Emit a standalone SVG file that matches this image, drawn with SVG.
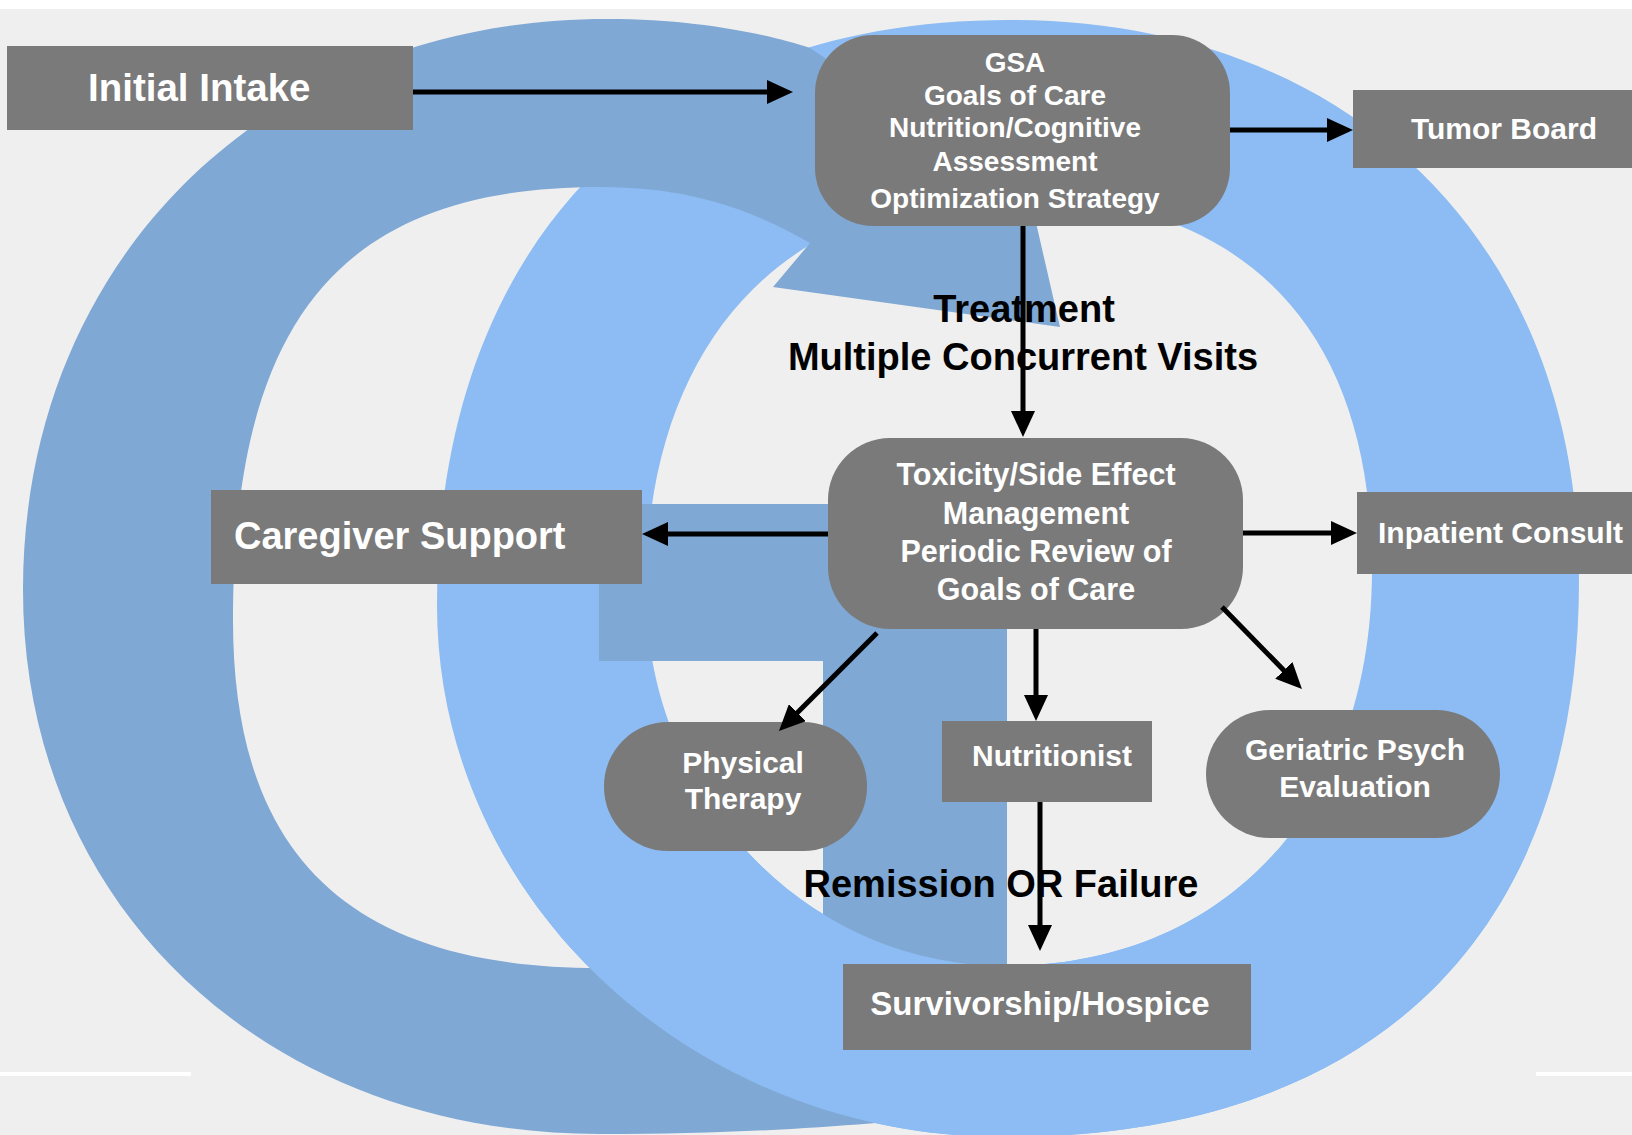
<svg xmlns="http://www.w3.org/2000/svg" xmlns:xlink="http://www.w3.org/1999/xlink" width="1632" height="1135" viewBox="0 0 1632 1135">
<defs>
<style>
.bg{fill:#efefef}
.wl{fill:#ffffff}
.dk{fill:#7fa8d5}
.lt{fill:#8cbcf3;fill-rule:evenodd}
.box{fill:#7a7a7a}
.wt{fill:#ffffff;font-family:"Liberation Sans",Arial,Helvetica,sans-serif;font-weight:bold}
.bk{fill:#000000;font-family:"Liberation Sans",Arial,Helvetica,sans-serif;font-weight:bold;font-size:38px}
.c{text-anchor:middle}
.ln{stroke:#000000;stroke-width:5;fill:none;marker-end:url(#ah)}
</style>
<marker id="ah" markerUnits="userSpaceOnUse" markerWidth="26" markerHeight="24" refX="10" refY="12" orient="auto">
<path d="M0,0 L26,12 L0,24 Z" fill="#000000"/>
</marker>
<path id="lightRing" d="M1010,20 C1351.4,20 1579,244 1579,580 C1579,936.5 1372.4,1137 1005,1137 C691.3,1137 437,898.8 437,605 C437,242.3 654.7,20 1010,20 Z M1005,195 C1243.6,195 1372,326.3 1372,570 C1372,807.6 1225.2,966 1005,966 C806.7,966 646,797.7 646,590 C646,345.1 782.4,195 1005,195 Z"/>
<clipPath id="lowClip"><rect x="0" y="850" width="1632" height="285"/></clipPath>
</defs>

<g id="background">
<rect class="bg" x="0" y="0" width="1632" height="1135"/>
<rect class="wl" x="0" y="0" width="1632" height="9"/>
<rect class="wl" x="0" y="1072" width="191" height="4"/>
<rect class="wl" x="1536" y="1072" width="96" height="4"/>
</g>

<g id="rings">
<use xlink:href="#lightRing" href="#lightRing" class="lt"/>
<path class="dk" d="M700,960 L950,1115 C880,1124 760,1134 600,1134 C265.3,1134 23,905.5 23,590 C23,258.8 268.3,19 607,19 C700,19 770,35 810,48 L850,75 L999,62 L1060,327 L773,287 L810,243 C760,215 700,187 600,187 C343.1,187 233,316.9 233,620 C233,856.6 350.4,968 600,968 C640,968 670,964 700,960 Z"/>
<path class="dk" d="M599,504 L1007,504 L1007,1090 L823,1090 L823,661 L599,661 Z"/>
<use xlink:href="#lightRing" href="#lightRing" class="lt" clip-path="url(#lowClip)"/>
</g>

<g id="node-initial-intake">
<rect class="box" x="7" y="46" width="406" height="84"/>
<text class="wt" x="88" y="101" font-size="38.5">Initial Intake</text>
</g>

<g id="node-gsa">
<rect class="box" x="815" y="35" width="415" height="191" rx="58" ry="58"/>
<text class="wt c" font-size="28"><tspan x="1015" y="72">GSA</tspan><tspan x="1015" y="105">Goals of Care</tspan><tspan x="1015" y="137">Nutrition/Cognitive</tspan><tspan x="1015" y="171">Assessment</tspan><tspan x="1015" y="208">Optimization Strategy</tspan></text>
</g>

<g id="node-tumor-board">
<rect class="box" x="1353" y="90" width="290" height="78"/>
<text class="wt c" x="1504" y="139" font-size="30">Tumor Board</text>
</g>

<g id="node-toxicity">
<rect class="box" x="828" y="438" width="415" height="191" rx="62" ry="62"/>
<text class="wt c" font-size="30.5"><tspan x="1036" y="485">Toxicity/Side Effect</tspan><tspan x="1036" y="524">Management</tspan><tspan x="1036" y="562">Periodic Review of</tspan><tspan x="1036" y="600">Goals of Care</tspan></text>
</g>

<g id="node-caregiver">
<rect class="box" x="211" y="490" width="431" height="94"/>
<text class="wt" x="234" y="549" font-size="38">Caregiver Support</text>
</g>

<g id="node-inpatient">
<rect class="box" x="1357" y="492" width="290" height="82"/>
<text class="wt" x="1378" y="543" font-size="30">Inpatient Consult</text>
</g>

<g id="node-physical-therapy">
<rect class="box" x="604" y="722" width="263" height="129" rx="64" ry="64"/>
<text class="wt c" font-size="30"><tspan x="743" y="773">Physical</tspan><tspan x="743" y="809">Therapy</tspan></text>
</g>

<g id="node-nutritionist">
<rect class="box" x="942" y="721" width="210" height="81"/>
<text class="wt c" x="1052" y="766" font-size="30">Nutritionist</text>
</g>

<g id="node-geriatric">
<rect class="box" x="1206" y="710" width="294" height="128" rx="64" ry="64"/>
<text class="wt c" font-size="30"><tspan x="1355" y="760">Geriatric Psych</tspan><tspan x="1355" y="797">Evaluation</tspan></text>
</g>

<g id="node-survivorship">
<rect class="box" x="843" y="964" width="408" height="86"/>
<text class="wt c" x="1040" y="1015" font-size="33">Survivorship/Hospice</text>
</g>

<g id="connectors">
<line class="ln" x1="413" y1="92" x2="777" y2="92"/>
<line class="ln" x1="1230" y1="130" x2="1337" y2="130"/>
<line class="ln" x1="1023" y1="226" x2="1023" y2="421"/>
<line class="ln" x1="828" y1="534" x2="658" y2="534"/>
<line class="ln" x1="1243" y1="533" x2="1341" y2="533"/>
<line class="ln" x1="877" y1="633" x2="790.3" y2="719.7"/>
<line class="ln" x1="1036" y1="629" x2="1036" y2="705"/>
<line class="ln" x1="1222" y1="607" x2="1290.8" y2="677.5"/>
<line class="ln" x1="1040" y1="802" x2="1040" y2="935"/>
<text class="bk c" x="1024" y="322">Treatment</text>
<text class="bk c" x="1023" y="370">Multiple Concurrent Visits</text>
<text class="bk c" x="1001" y="897">Remission OR Failure</text>
</g>
</svg>
